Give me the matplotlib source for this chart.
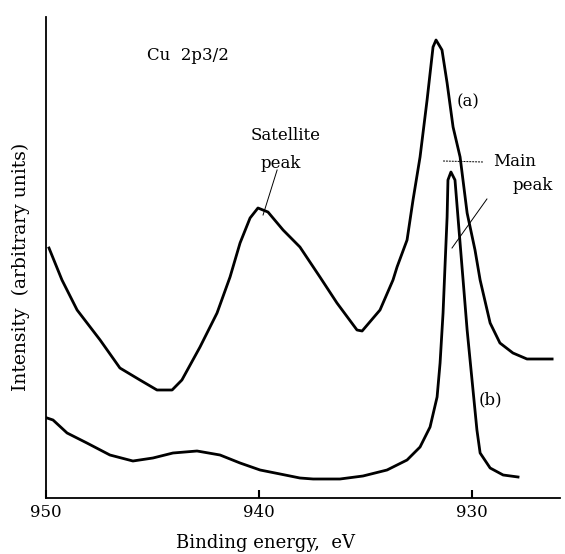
import matplotlib
matplotlib.use("Agg")
import matplotlib.pyplot as plt

# Curve (a): binding energy (eV) and intensity (arbitrary units)
energy_a = [949.86, 949.25, 948.54, 947.46, 946.53, 945.59, 944.79, 944.08, 943.62,
            942.77, 941.97, 941.36, 940.89, 940.42, 940.05, 939.58, 938.87, 938.08,
            937.14, 936.34, 935.40, 935.16, 934.32, 933.71, 933.52, 933.05, 932.77,
            932.44, 932.11, 931.83, 931.69, 931.41, 931.17, 930.89, 930.56, 930.23,
            929.86, 929.62, 929.15, 928.69, 928.08, 927.42, 926.24]
intensity_a = [250, 218, 188, 158, 130, 118, 108, 108, 118,
               151, 185, 221, 255, 280, 290, 286, 268, 251,
               221, 195, 168, 167, 188, 218, 231, 258, 298,
               341, 398, 451, 458, 448, 415, 371, 341, 285,
               248, 218, 175, 155, 145, 139, 139]

# Curve (b)
energy_b = [949.95, 949.67, 949.01, 948.08, 947.00, 945.92, 944.98, 944.04, 942.91,
            941.83, 940.89, 939.95, 939.01, 938.08, 937.46, 936.20, 935.12, 933.99,
            933.05, 932.44, 931.97, 931.64, 931.50, 931.36, 931.27, 931.17, 931.13,
            930.99, 930.80, 930.66, 930.47, 930.42, 930.23, 930.00, 929.77, 929.62,
            929.15, 928.54, 927.84]
intensity_b = [80, 78, 65, 55, 43, 37, 40, 45, 47,
               43, 35, 28, 24, 20, 19, 19, 22, 28,
               38, 51, 71, 101, 135, 185, 231, 281, 318,
               326, 318, 281, 231, 218, 168, 118, 68, 45,
               30, 23, 21]

x_ticks = [950, 940, 930]
x_tick_labels = ["950", "940", "930"]

plt.rcParams['font.family'] = ['DejaVu Serif']

fig = plt.figure(figsize=(5.65, 5.54), dpi=100)
ax = fig.add_axes([46/565, 1 - 498/554, (560 - 46)/565, (498 - 17)/554])

ax.plot(energy_a, intensity_a, color='black', lw=2.0, solid_joinstyle='round')
ax.plot(energy_b, intensity_b, color='black', lw=2.0, solid_joinstyle='round')

ax.set_xlim(950, 925.87)
ax.set_ylim(0, 481)
ax.set_xticks(x_ticks)
ax.set_xticklabels(x_tick_labels, fontsize=12)
ax.set_yticks([])
ax.tick_params(axis='x', direction='in', length=6, width=1.5, pad=4)
for s in ['top', 'right']:
    ax.spines[s].set_visible(False)
for s in ['left', 'bottom']:
    ax.spines[s].set_linewidth(1.3)

ax.set_xlabel("Binding energy,  eV", fontsize=13)
ax.set_ylabel("Intensity  (arbitrary units)", fontsize=13.5)
ax.xaxis.set_label_coords((266 - 46) / 514, -(543 - 498) / 481, transform=ax.transAxes)
ax.yaxis.set_label_coords(-(46 - 21) / 514, (498 - 267) / 481, transform=ax.transAxes)
ax.xaxis.label.set_va('center')
ax.yaxis.label.set_va('center')

ax.text(943.33, 443, "Cu  2p3/2", fontsize=12, ha='center', va='center')
ax.text(938.73, 363, "Satellite", fontsize=12, ha='center', va='center')
ax.text(938.97, 335, "peak", fontsize=12, ha='center', va='center')
ax.plot([939.15, 939.81], [328, 283], color='black', lw=0.7)

ax.text(930.19, 396, "(a)", fontsize=12, ha='center', va='center')
ax.text(927.98, 336, "Main", fontsize=12, ha='center', va='center')
ax.text(927.14, 313, "peak", fontsize=12, ha='center', va='center')
ax.plot([931.36, 929.48], [337, 336], color='black', lw=0.7, ls=(0, (2, 1)))
ax.plot([929.30, 930.94], [299, 250], color='black', lw=0.7)

ax.text(929.15, 98, "(b)", fontsize=12, ha='center', va='center')

fig.savefig("out.png", dpi=100)
